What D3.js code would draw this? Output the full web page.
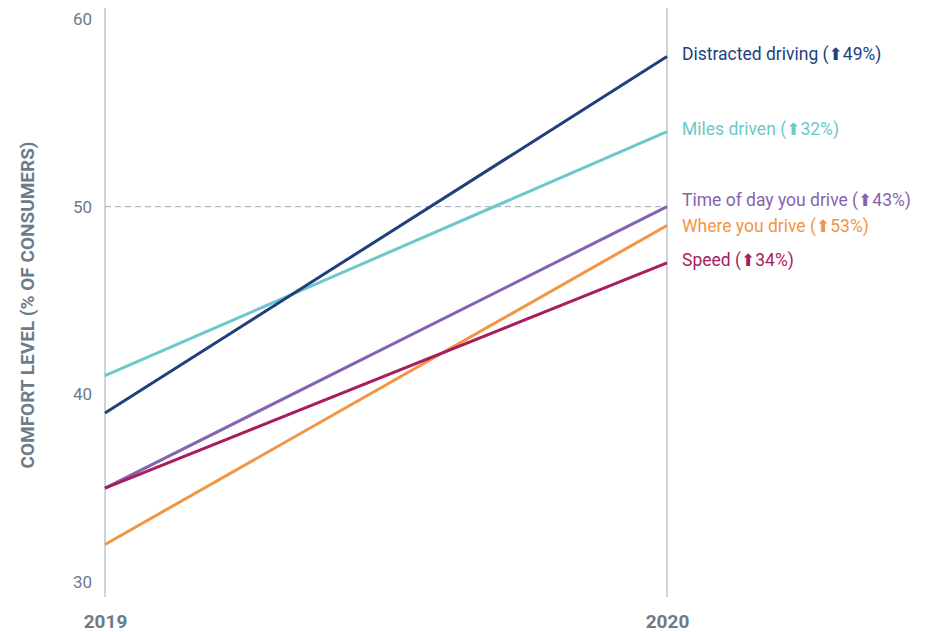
<!DOCTYPE html>
<html><head><meta charset="utf-8">
<script src="https://cdn.jsdelivr.net/npm/d3@7"></script>
<style>
body{margin:0;background:#fff;}
svg{display:block;font-family:Roboto,"Noto Sans",sans-serif;}
</style></head>
<body><svg id="chart" width="926" height="632"></svg>
<script>
const years = ["2019", "2020"];
const seriesNames = ["Miles driven", "Distracted driving", "Where you drive", "Time of day you drive", "Speed"];
const values2019 = [41, 39, 32, 35, 35];
const values2020 = [54, 58, 49, 50, 47];
const changeLabels = ["32%", "49%", "53%", "43%", "34%"];
const colors = ["#6cc8cb", "#213f7e", "#f29544", "#8663b1", "#a71d5d"];
const yTicks = [30, 40, 50, 60];

const svg = d3.select("#chart");
const x = d3.scalePoint().domain(years).range([105, 667]);
const y = d3.scaleLinear().domain([30, 60]).range([582, 19]);
const grey = "#6c7b88";

// vertical axis lines
svg.selectAll("line.vax").data(years).enter().append("line")
  .attr("x1", d => x(d)).attr("x2", d => x(d))
  .attr("y1", 8).attr("y2", 597)
  .attr("stroke", "#9ea8b1").attr("stroke-width", 1);

// dashed reference at 50
svg.append("line").attr("x1", x("2019")).attr("x2", x("2020"))
  .attr("y1", y(50)).attr("y2", y(50))
  .attr("stroke", "#9ea8b1").attr("stroke-width", 1).attr("stroke-dasharray", "6,4");

// y tick labels
const yAxis = d3.axisLeft(y).tickValues(yTicks).tickSize(0).tickPadding(13);
const ga = svg.append("g").attr("transform", `translate(${x("2019")},0)`).call(yAxis);
ga.select(".domain").remove();
ga.selectAll("text").attr("fill", grey).attr("font-size", 17).attr("font-family", "Roboto, sans-serif");

// x labels
const xAxis = d3.axisBottom(x).tickSize(0).tickPadding(0);
const gx = svg.append("g").attr("transform", `translate(0,614)`).call(xAxis);
gx.select(".domain").remove();
gx.selectAll("text").attr("fill", grey).attr("font-size", 19).attr("font-weight", "bold")
  .attr("font-family", "Roboto, sans-serif");

// y axis title
svg.append("text")
  .attr("transform", "translate(34,305) rotate(-90)")
  .attr("text-anchor", "middle")
  .attr("fill", grey).attr("font-size", 19).attr("font-weight", "bold")
  .text("COMFORT LEVEL (% OF CONSUMERS)");

// lines
const data = seriesNames.map((n, i) => ({name: n, vals: [values2019[i], values2020[i]], color: colors[i], change: changeLabels[i]}));
const line = d3.line().x((d, i) => x(years[i])).y(d => y(d));
svg.selectAll("path.s").data(data).enter().append("path")
  .attr("d", d => line(d.vals)).attr("fill", "none")
  .attr("stroke", d => d.color).attr("stroke-width", 3);

// labels with simple collision avoidance
const labs = data.map(d => ({...d, ly: y(d.vals[1]) - 3})).sort((a, b) => a.ly - b.ly);
const gap = 26;
for (let it = 0; it < 50; it++) {
  for (let i = 1; i < labs.length; i++) {
    const ov = gap - (labs[i].ly - labs[i-1].ly);
    if (ov > 0) { labs[i].ly += ov / 2; labs[i-1].ly -= ov / 2; }
  }
}
const t = svg.selectAll("text.lab").data(labs).enter().append("text")
  .attr("x", 682).attr("y", d => d.ly).attr("dy", "0.35em")
  .attr("fill", d => d.color).attr("font-size", 17.5);
t.append("tspan").text(d => d.name + " (");
t.append("tspan").attr("font-family", "DejaVu Sans").attr("font-size", 17).text("\u2B06");
t.append("tspan").text(d => d.change + ")");
</script></body></html>
